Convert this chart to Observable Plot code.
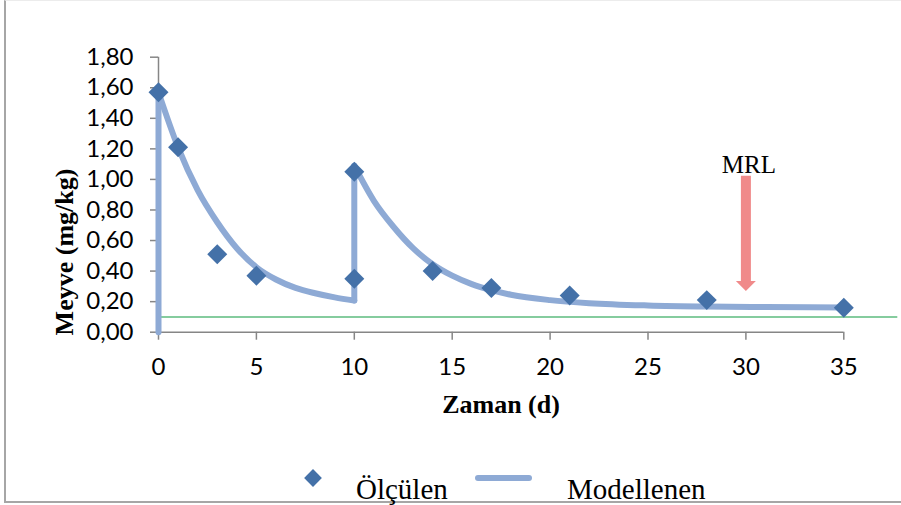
<!DOCTYPE html>
<html>
<head>
<meta charset="utf-8">
<script src="https://cdn.jsdelivr.net/npm/d3@7"></script>
<script src="https://cdn.jsdelivr.net/npm/@observablehq/plot@0.6"></script>
<style>
  html, body { margin: 0; padding: 0; background: #fff; overflow: hidden; }
  #wrap { position: relative; width: 901px; height: 505px; overflow: hidden; background: #fff; }
  #frame { position: absolute; left: 4px; top: 0; width: 910px; height: 500px;
           border-left: 2px solid #a6a6a6; border-bottom: 2px solid #a6a6a6; border-top: 1px solid #ececec; }
  #chart { position: absolute; left: 0; top: 0; }
  #overlay { position: absolute; left: 0; top: 0; pointer-events: none; }
</style>
</head>
<body>
<div id="wrap">
  <div id="frame"></div>
  <div id="chart"></div>
  <svg id="overlay" width="901" height="505"></svg>
</div>
<script>
// ---- data ----
const xTicks = [0, 5, 10, 15, 20, 25, 30, 35];
const yTicks = [0, 0.2, 0.4, 0.6, 0.8, 1.0, 1.2, 1.4, 1.6, 1.8];

// measured values ("Ölçülen")
const measuredDays   = [0, 1, 3, 5, 10, 10, 14, 17, 21, 28, 35];
const measuredValues = [1.57, 1.21, 0.51, 0.37, 0.35, 1.05, 0.40, 0.29, 0.24, 0.21, 0.16];

// modelled curve ("Modellenen"), two decay phases after two applications
const modelStart = 0;
const decay1Days   = [0, 1, 2, 3, 4, 5, 6, 7, 8, 9, 10];
const decay1Values = [1.57, 1.21, 0.93, 0.72, 0.55, 0.425, 0.345, 0.29, 0.255, 0.228, 0.207];
const decay2Days   = [10, 11, 12, 13, 14, 15, 16, 17, 18, 20, 22, 25, 28, 31, 35];
const decay2Values = [1.09, 0.86, 0.69, 0.55, 0.445, 0.37, 0.315, 0.275, 0.245, 0.21, 0.19, 0.175, 0.168, 0.165, 0.162];

// MRL level and annotation arrow
const mrlLevel = 0.10;
const mrlLabel = "MRL";
const mrlX = 30;
const mrlTop = 1.02;
const mrlTip = 0.27;

const xTitle = "Zaman (d)";
const yTitle = "Meyve (mg/kg)";
const legendLabels = ["Ölçülen", "Modellenen"];

// ---- tables ----
const measured = measuredDays.map((d, i) => ({day: d, value: measuredValues[i]}));
const model = [];
model.push({seg: "j1", day: decay1Days[0], value: modelStart});
model.push({seg: "j1", day: decay1Days[0], value: decay1Values[0]});
decay1Days.forEach((d, i) => model.push({seg: "d1", day: d, value: decay1Values[i]}));
model.push({seg: "j2", day: decay2Days[0], value: decay1Values[decay1Values.length - 1]});
model.push({seg: "j2", day: decay2Days[0], value: decay2Values[0]});
decay2Days.forEach((d, i) => model.push({seg: "d2", day: d, value: decay2Values[i]}));
const arrow = [{x: mrlX, top: mrlTop, tip: mrlTip, label: mrlLabel}];

const DIAMOND = "#4471a8";
const MODEL = "#8eaad5";
const GRID = "#868686";
const ARROW = "#f08a8a";
const SERIF = "'Liberation Serif', 'Times New Roman', serif";
const SANS = "Lato, 'Open Sans', sans-serif";
const TICK_FONT = "24px";

const arrowHead = {
  draw(ctx, size) {
    const h = Math.sqrt(size / Math.PI);
    ctx.moveTo(-h, -h);
    ctx.lineTo(h, -h);
    ctx.lineTo(0, 0);
    ctx.closePath();
  }
};

const comma = d => d.toFixed(2).replace(".", ",");

const chart = Plot.plot({
  width: 901,
  height: 430,
  marginLeft: 158,
  marginRight: 57.7,
  marginTop: 56.7,
  marginBottom: 98.3,
  style: {fontFamily: SANS, fontSize: TICK_FONT, color: "black", background: "transparent", overflow: "visible"},
  x: {domain: [0, 35], ticks: xTicks, tickSize: 8, tickPadding: 17.5, tickFormat: d => String(d), label: null},
  y: {domain: [0, 1.8], ticks: yTicks, tickSize: 8, tickPadding: 17, tickFormat: comma, label: null},
  marks: [
    Plot.ruleX([0], {stroke: GRID, strokeWidth: 1.5}),
    Plot.ruleY([0], {stroke: GRID, strokeWidth: 1.5}),
    Plot.ruleY([mrlLevel], {stroke: "#5dbb7e", strokeWidth: 1.5, insetRight: -54}),
    Plot.line(model, {x: "day", y: "value", z: "seg", curve: "monotone-x", stroke: MODEL, strokeWidth: 6, strokeLinecap: "round", strokeLinejoin: "round"}),
    Plot.dot(measured, {x: "day", y: "value", symbol: "diamond2", r: 9, fill: DIAMOND, stroke: "none"}),
    Plot.ruleX(arrow, {x: "x", y1: "top", y2: "tip", stroke: ARROW, strokeWidth: 10, insetBottom: 9}),
    Plot.dot(arrow, {x: "x", y: "tip", symbol: arrowHead, r: 10, fill: ARROW, stroke: "none"}),
    Plot.text(arrow, {x: "x", y: "top", text: "label", lineAnchor: "bottom", dy: -3, dx: 3, fontFamily: SERIF, fontSize: 25, fill: "black"})
  ]
});

// gray tick marks, black labels at the reference size
chart.querySelectorAll('[aria-label="x-axis tick"], [aria-label="y-axis tick"]').forEach(g => {
  g.setAttribute("stroke", GRID);
  g.setAttribute("stroke-width", "1.5");
  g.querySelectorAll("path, line").forEach(p => { p.setAttribute("stroke", GRID); p.setAttribute("stroke-width", "1.5"); });
});
chart.querySelectorAll('[aria-label="x-axis tick label"], [aria-label="y-axis tick label"]').forEach(g => {
  g.setAttribute("font-size", TICK_FONT);
  g.style.fontSize = TICK_FONT;
  g.style.fontFamily = SANS;
  g.setAttribute("fill", "black");
});
chart.querySelectorAll(".tick line").forEach(l => { l.setAttribute("stroke", GRID); l.setAttribute("stroke-width", "1.5"); });
chart.querySelectorAll(".tick text").forEach(t => { t.style.fontSize = TICK_FONT; t.setAttribute("fill", "black"); });
chart.querySelectorAll(".domain").forEach(p => p.remove());

document.getElementById("chart").appendChild(chart);

// ---- axis titles and legend ----
const ov = d3.select("#overlay");
ov.append("text")
  .attr("transform", "translate(73,252) rotate(-90)")
  .attr("text-anchor", "middle")
  .attr("font-family", SERIF).attr("font-weight", "bold").attr("font-size", 26).attr("fill", "black")
  .text(yTitle);
ov.append("text")
  .attr("x", 501).attr("y", 413)
  .attr("text-anchor", "middle")
  .attr("font-family", SERIF).attr("font-weight", "bold").attr("font-size", 26).attr("fill", "black")
  .text(xTitle);

const lx = 313, ly = 478;
ov.append("path")
  .attr("d", d3.symbol(d3.symbolDiamond2, Math.PI * 8 * 8)())
  .attr("transform", `translate(${lx},${ly})`)
  .attr("fill", DIAMOND);
ov.append("text").attr("x", 356).attr("y", 499)
  .attr("font-family", SERIF).attr("font-size", 29).attr("fill", "black")
  .text(legendLabels[0]);
ov.append("line").attr("x1", 478).attr("x2", 529).attr("y1", ly).attr("y2", ly)
  .attr("stroke", MODEL).attr("stroke-width", 6).attr("stroke-linecap", "round");
ov.append("text").attr("x", 567).attr("y", 499)
  .attr("font-family", SERIF).attr("font-size", 29).attr("fill", "black")
  .text(legendLabels[1]);
</script>
</body>
</html>
